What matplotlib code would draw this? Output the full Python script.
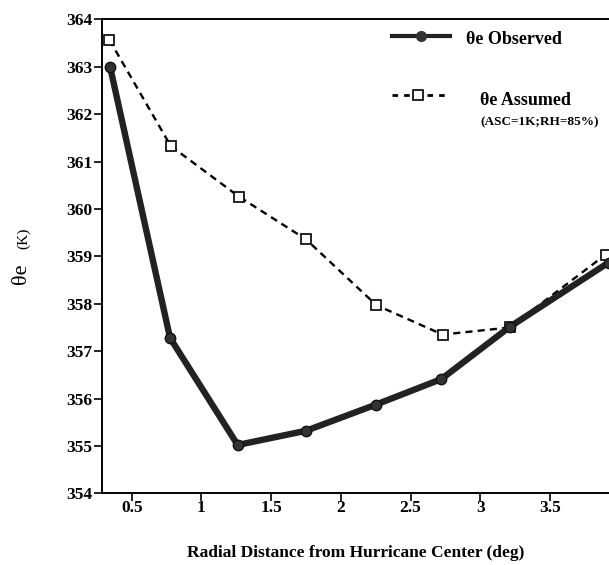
import matplotlib
matplotlib.use("Agg")
import matplotlib.pyplot as plt

## data
dist_obs = [0.345, 0.775, 1.26, 1.75, 2.25, 2.72, 3.21, 3.92]
theta_obs = [363.0, 357.28, 355.02, 355.32, 355.87, 356.41, 357.51, 358.87]

dist_asm = [0.34, 0.78, 1.27, 1.75, 2.255, 2.73, 3.21, 3.90]
theta_asm = [363.57, 361.33, 360.26, 359.36, 357.97, 357.35, 357.50, 359.04]

xticks = [0.5, 1, 1.5, 2, 2.5, 3, 3.5]
xtick_labels = ["0.5", "1", "1.5", "2", "2.5", "3", "3.5"]
yticks = list(range(354, 365))

plt.rcParams['font.family'] = ['Liberation Serif', 'DejaVu Serif']
plt.rcParams['font.weight'] = 'bold'

fig = plt.figure(figsize=(6.09, 5.65), dpi=100)
ax = fig.add_axes([0.1675, 0.1269, 0.8325, 0.8386])

ax.plot(dist_obs, theta_obs, color='#222222', linewidth=4.6, marker='o',
        markersize=7.5, markerfacecolor='#333333', markeredgecolor='#111111', zorder=3)
ax.plot(dist_asm, theta_asm, color='black', linewidth=1.7, linestyle=(0, (3, 2.2)),
        marker='s', markersize=7, markerfacecolor='white', markeredgecolor='black',
        markeredgewidth=1.2, zorder=2)

ax.set_xlim(0.287, 3.923)
ax.set_ylim(354, 364)
ax.set_xticks(xticks)
ax.set_xticklabels(xtick_labels)
ax.set_yticks(yticks)
ax.tick_params(axis='both', direction='out', width=1.2, labelsize=12.5)
ax.tick_params(axis='y', length=6, pad=1)
ax.tick_params(axis='x', length=6, pad=-1)
for lab in ax.get_xticklabels() + ax.get_yticklabels():
    lab.set_fontweight('bold')
ax.spines['right'].set_visible(False)
for s in ['left', 'bottom', 'top']:
    ax.spines[s].set_linewidth(1.4)

ax.set_xlabel("Radial Distance from Hurricane Center (deg)", fontsize=12.5,
              fontweight='bold', labelpad=21)

## y label in two sizes
fig.text(0.035, 0.515, "θe", rotation=90, fontsize=16, fontweight='normal',
         ha='center', va='center')
fig.text(0.039, 0.579, "(K)", rotation=90, fontsize=11, fontweight='normal',
         ha='center', va='center')

## hand made legend
tr = ax.transAxes
ax.plot([0.572, 0.686], [0.965, 0.965], transform=tr, color='#222222', linewidth=3,
        clip_on=False, zorder=5)
ax.plot([0.629], [0.965], transform=tr, marker='o', markersize=7, color='#333333',
        clip_on=False, zorder=6)
ax.text(0.717, 0.957, "θe Observed", transform=tr, fontsize=13, fontweight='bold',
        va='center', ha='left')

ax.plot([0.572, 0.676], [0.841, 0.841], transform=tr, color='black', linewidth=2,
        linestyle=(0, (2, 2.2)), clip_on=False, zorder=5)
ax.plot([0.624], [0.841], transform=tr, marker='s', markersize=7,
        markerfacecolor='white', markeredgecolor='black', markeredgewidth=1.2,
        clip_on=False, zorder=6)
ax.text(0.745, 0.828, "θe Assumed", transform=tr, fontsize=13, fontweight='bold',
        va='center', ha='left')
ax.text(0.864, 0.783, "(ASC=1K;RH=85%)", transform=tr, fontsize=9.5, fontweight='bold',
        va='center', ha='center')

fig.savefig("out.png", dpi=100)
